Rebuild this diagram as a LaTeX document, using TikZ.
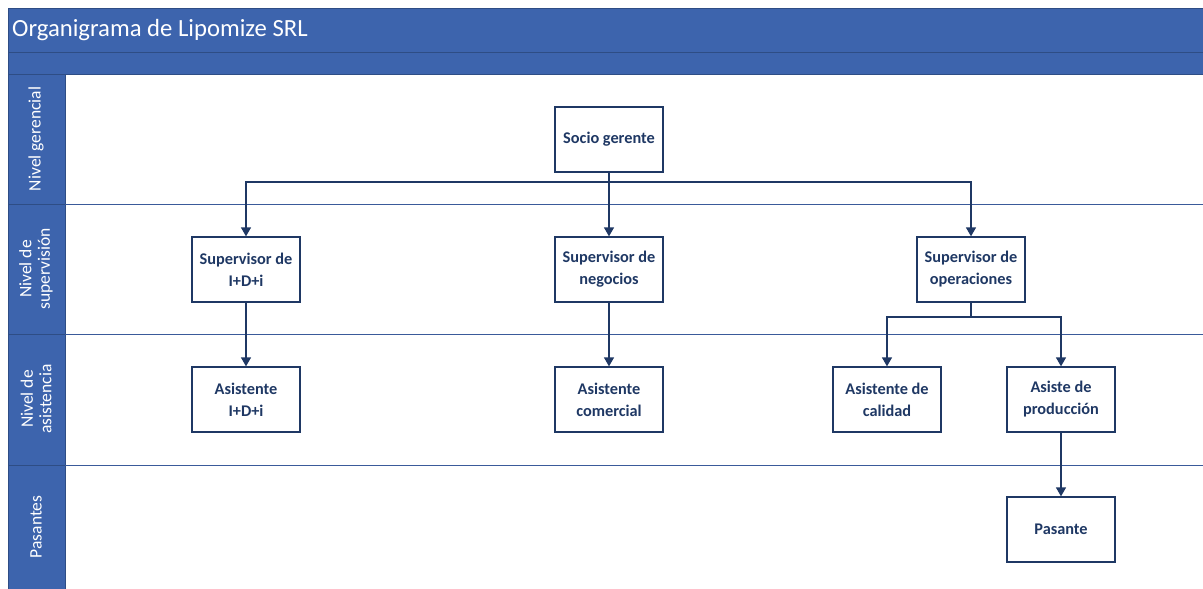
\documentclass[tikz,border=0pt]{standalone}
\usepackage{fontspec}
\setmainfont{Carlito}
\usetikzlibrary{arrows.meta}
\definecolor{barblue}{HTML}{3D64AD}
\definecolor{barline}{HTML}{2E4D85}
\definecolor{navy}{HTML}{1F3864}
\definecolor{laneline}{HTML}{3A5A9A}
\begin{document}
\begin{tikzpicture}[x=1pt,y=-1pt,
  box/.style={draw=navy,line width=1.3pt,fill=white,minimum width=108pt,minimum height=65pt,
    align=center,font=\fontsize{16.3}{22}\selectfont\bfseries,text=navy,inner sep=0pt},
  lanelabel/.style={rotate=90,text=white,align=center,font=\fontsize{17.5}{18.5}\selectfont},
  conn/.style={draw=navy,line width=1.3pt},
  arr/.style={conn,-{Triangle[width=10pt,length=9pt]}}]
\useasboundingbox (0,0) rectangle (1203,589);
\fill[white] (0,0) rectangle (1203,589);
% header bars
\fill[barblue] (8,8) rectangle (1203,74);
\fill[barblue] (8,74) rectangle (65,589);
\draw[barline,line width=0.8pt] (8,8.5) -- (1203,8.5);
\draw[barline,line width=0.8pt] (8,52) -- (1203,52);
\draw[barline,line width=0.8pt] (8,74) -- (1203,74);
\draw[barline,line width=0.8pt] (8,8) -- (8,589);
\draw[barline,line width=0.8pt] (65,74) -- (65,589);
\foreach \y in {204,334,465} {
  \draw[barline,line width=0.8pt] (8,\y) -- (65,\y);
  \draw[laneline,line width=1pt] (65,\y) -- (1203,\y);
}
\node[anchor=west,text=white,font=\fontsize{24.7}{26}\selectfont,inner sep=0pt] (title) at (12,30) {Organigrama de Lipomize SRL};
\node[lanelabel] (l1) at (36,139) {Nivel gerencial};
\node[lanelabel] (l2) at (36,269) {Nivel de\\supervisión};
\node[lanelabel] (l3) at (36,399) {Nivel de\\asistencia};
\node[lanelabel] (l4) at (36,527) {Pasantes};
% boxes
\node[box] (socio) at (609,139.5) {Socio gerente};
\node[box] (sid) at (246,269.5) {Supervisor de\\I+D+i};
\node[box] (sneg) at (609,269.5) {Supervisor de\\negocios};
\node[box] (sop) at (971,269.5) {Supervisor de\\operaciones};
\node[box] (aid) at (246,399.5) {Asistente\\I+D+i};
\node[box] (acom) at (609,399.5) {Asistente\\comercial};
\node[box] (acal) at (887,399.5) {Asistente de\\calidad};
\node[box] (apro) at (1061,399.5) {Asiste de\\producción};
\node[box] (pas) at (1061,529.5) {Pasante};
% connectors
\coordinate (j1) at (609,182);
\coordinate (j2) at (971,317);
\draw[conn] (socio.south) -- (j1);
\draw[arr] (j1) -| (sid.north);
\draw[arr] (j1) -- (sneg.north);
\draw[arr] (j1) -| (sop.north);
\draw[arr] (sid.south) -- (aid.north);
\draw[arr] (sneg.south) -- (acom.north);
\draw[conn] (sop.south) -- (j2);
\draw[arr] (j2) -| (acal.north);
\draw[arr] (j2) -| (apro.north);
\draw[arr] (apro.south) -- (pas.north);
\end{tikzpicture}
\end{document}
